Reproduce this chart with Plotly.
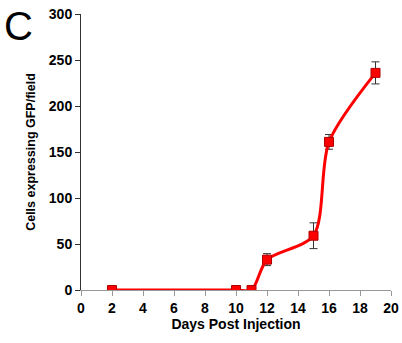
import plotly.graph_objects as go

days = [2, 10, 11, 12, 15, 16, 19]
cells = [0, 0, 0, 33, 59, 161, 236]
errors = [0, 0, 0, 6.5, 14, 8, 12]
x_ticks = list(range(0, 21, 2))
y_ticks = list(range(0, 301, 50))

fig = go.Figure()
fig.add_trace(go.Scatter(
    x=days, y=cells, mode="lines+markers",
    line=dict(color="#ff0000", width=3, shape="spline", smoothing=0.8),
    marker=dict(symbol="square", size=9, color="#ff0000", line=dict(color="#b00000", width=1)),
    error_y=dict(type="data", array=errors, visible=True, color="#333333", thickness=1, width=4),
    showlegend=False,
))

tickfont = dict(family="Liberation Sans, Arial", size=14, color="black", weight="bold")
fig.update_layout(
    width=402, height=343,
    margin=dict(l=81, r=11, t=14, b=53),
    paper_bgcolor="white", plot_bgcolor="white",
    font=dict(family="Liberation Sans, Arial", size=13, color="black"),
    xaxis=dict(range=[0, 20], tickvals=x_ticks, ticks="outside", ticklen=5, tickcolor="#999999",
               showline=True, linecolor="#999999", linewidth=1, showgrid=False, zeroline=False,
               automargin=False, tickfont=tickfont,
               title=dict(text="<b>Days Post Injection</b>", standoff=4, font=dict(size=14))),
    yaxis=dict(range=[0, 300], tickvals=y_ticks, ticks="outside", ticklen=5, tickcolor="#333333",
               showline=True, linecolor="#333333", linewidth=1, showgrid=False, zeroline=False,
               automargin=False, tickfont=tickfont,
               title=dict(text="<b>Cells expressing GFP/field</b>", standoff=10, font=dict(size=12.5))),
    annotations=[dict(text="C", x=0, y=1, xref="paper", yref="paper",
                      xanchor="left", yanchor="top", showarrow=False,
                      xshift=-79, yshift=12,
                      font=dict(family="Liberation Sans, Arial", size=40, color="black"))],
)
fig.write_html("out.html")
